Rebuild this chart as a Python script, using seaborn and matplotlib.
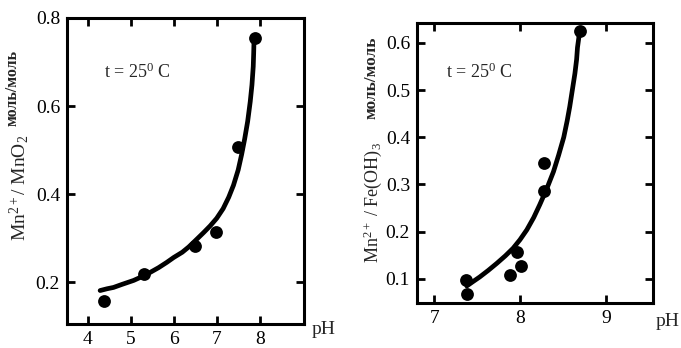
import matplotlib
matplotlib.use("Agg")
import matplotlib.pyplot as plt
import seaborn as sns
import pandas as pd

# ---- data ----
mno2_ph = [4.39, 5.32, 6.50, 6.99, 7.49, 7.90]
mno2_ratio = [0.158, 0.219, 0.283, 0.315, 0.508, 0.755]
mno2_curve_ph = [4.29, 4.45, 4.6, 4.8, 5.07, 5.25, 5.45, 5.65, 5.84, 6.0, 6.2, 6.35, 6.5,
                 6.7, 6.85, 7.0, 7.15, 7.28, 7.39, 7.5, 7.58, 7.65, 7.72, 7.78, 7.82,
                 7.85, 7.86, 7.87]
mno2_curve_ratio = [0.181, 0.185, 0.188, 0.195, 0.204, 0.212, 0.222, 0.233, 0.245, 0.256,
                    0.268, 0.28, 0.294, 0.313, 0.328, 0.345, 0.367, 0.393, 0.42, 0.455,
                    0.49, 0.525, 0.565, 0.61, 0.648, 0.69, 0.72, 0.757]

feoh_ph = [7.37, 7.38, 7.88, 7.96, 8.01, 8.28, 8.28, 8.70]
feoh_ratio = [0.098, 0.068, 0.109, 0.158, 0.127, 0.346, 0.286, 0.626]
feoh_curve_ph = [7.38, 7.45, 7.53, 7.63, 7.73, 7.83, 7.92, 8.0, 8.08, 8.16, 8.23, 8.31,
                 8.39, 8.45, 8.51, 8.55, 8.58, 8.61, 8.64, 8.66, 8.67, 8.685, 8.69]
feoh_curve_ratio = [0.085, 0.094, 0.104, 0.118, 0.133, 0.149, 0.165, 0.183, 0.204, 0.23,
                    0.257, 0.29, 0.327, 0.362, 0.40, 0.435, 0.465, 0.50, 0.535, 0.565,
                    0.59, 0.61, 0.625]

left_xticks = [4, 5, 6, 7, 8]
left_yticks = [0.2, 0.4, 0.6, 0.8]
right_xticks = [7, 8, 9]
right_yticks = [0.1, 0.2, 0.3, 0.4, 0.5, 0.6]

sns.set_theme(style="ticks")
plt.rcParams["font.family"] = ["Liberation Serif", "DejaVu Serif"]
plt.rcParams["mathtext.fontset"] = "custom"
plt.rcParams["mathtext.rm"] = "Liberation Serif"
plt.rcParams["mathtext.it"] = "Liberation Serif"
plt.rcParams["mathtext.bf"] = "Liberation Serif:bold"

fig = plt.figure(figsize=(6.81, 3.48), dpi=100)
W, H = 681, 348


def box(x0, y0, x1, y1):
    return [x0 / W, 1 - y1 / H, (x1 - x0) / W, (y1 - y0) / H]


ax1 = fig.add_axes(box(67, 18, 304, 324))
ax2 = fig.add_axes(box(417, 23, 653, 303))


def draw(ax, px, py, cx, cy, xlim, ylim, xt, yt, fmt):
    pts = pd.DataFrame({"pH": px, "r": py})
    crv = pd.DataFrame({"pH": cx, "r": cy})
    sns.lineplot(data=crv, x="pH", y="r", ax=ax, color="black", lw=3.4,
                 sort=False, estimator=None, solid_joinstyle="round",
                 solid_capstyle="round")
    sns.scatterplot(data=pts, x="pH", y="r", ax=ax, color="black", s=85,
                    edgecolor="black", linewidth=0, zorder=3)
    ax.set_xlim(*xlim)
    ax.set_ylim(*ylim)
    ax.set_xticks(xt)
    ax.set_yticks(yt)
    ax.set_yticklabels([fmt.format(v) for v in yt])
    ax.set_xlabel("")
    ax.set_ylabel("")
    ax.tick_params(direction="in", length=6, width=2, top=True, right=True,
                   labelsize=14, pad=5, colors="black")
    for s in ax.spines.values():
        s.set_linewidth(2.2)
        s.set_color("black")


draw(ax1, mno2_ph, mno2_ratio, mno2_curve_ph, mno2_curve_ratio,
     (3.52, 9.03), (0.105, 0.8), left_xticks, left_yticks, "{:.1f}")
draw(ax2, feoh_ph, feoh_ratio, feoh_curve_ph, feoh_curve_ratio,
     (6.80, 9.55), (0.049, 0.642), right_xticks, right_yticks, "{:.1f}")

# annotations
fig.text(104 / W, 1 - 72 / H, r"t = 25$^0$ C", fontsize=13, va="center", ha="left")
fig.text(446 / W, 1 - 72 / H, r"t = 25$^0$ C", fontsize=13, va="center", ha="left")
fig.text(312 / W, 1 - 330 / H, "pH", fontsize=14, va="center", ha="left")
fig.text(656 / W, 1 - 322 / H, "pH", fontsize=14, va="center", ha="left")

fig.text(13 / W, 1 - 88 / H, "моль/моль", fontsize=11.5, fontweight="bold",
         rotation=90, va="center", ha="center")
fig.text(19 / W, 1 - 188 / H, r"Mn$^{2+}$/ MnO$_2$", fontsize=14,
         rotation=90, va="center", ha="center")
fig.text(372 / W, 1 - 78 / H, "моль/моль", fontsize=12.5, fontweight="bold",
         rotation=90, va="center", ha="center")
fig.text(373 / W, 1 - 203 / H, r"Mn$^{2+}$ / Fe(OH)$_3$", fontsize=13,
         rotation=90, va="center", ha="center")

fig.savefig("out.png", dpi=100, facecolor="white")
